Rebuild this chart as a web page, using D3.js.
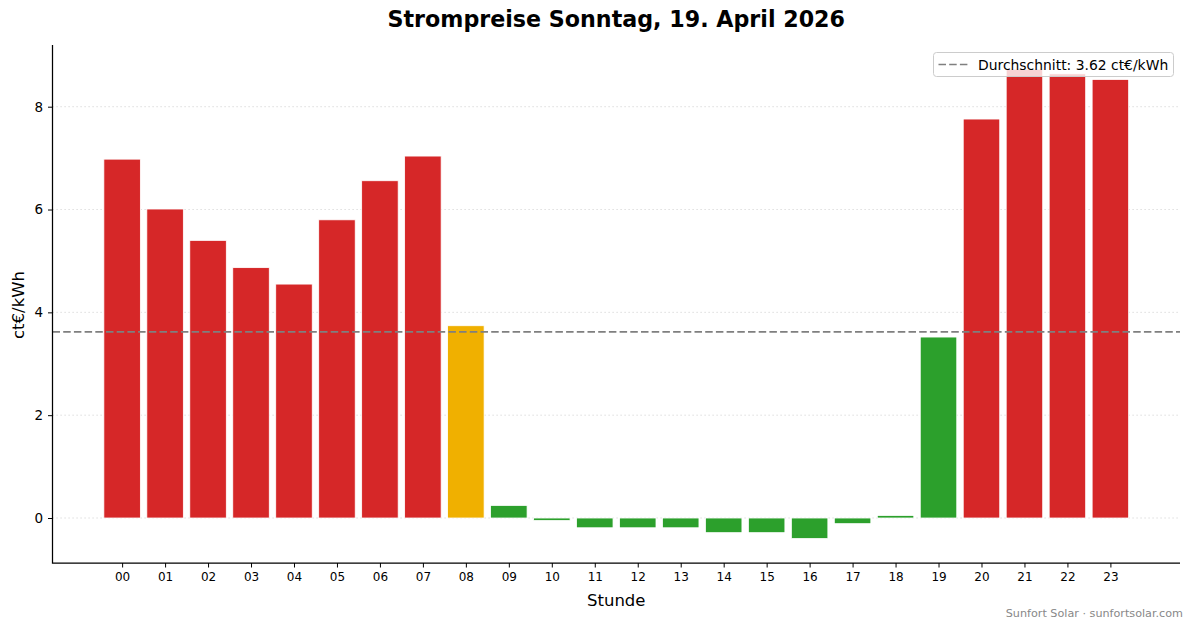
<!DOCTYPE html>
<html>
<head>
<meta charset="utf-8">
<script src="https://cdn.jsdelivr.net/npm/d3@7"></script>
<style>
  body { margin: 0; background: #fff; }
  text { font-family: "DejaVu Sans", sans-serif; }
</style>
</head>
<body>
<div id="chart"></div>
<script>
const width = 1193;
const height = 628;

// hourly prices in ct/kWh
const hours = ["00","01","02","03","04","05","06","07","08","09","10","11",
  "12","13","14","15","16","17","18","19","20","21","22","23"];
const prices = [6.98, 6.01, 5.40, 4.87, 4.55, 5.80, 6.56, 7.04, 3.74, 0.245, -0.05, -0.19,
  -0.19, -0.19, -0.285, -0.285, -0.40, -0.11, 0.05, 3.52, 7.76, 8.73, 8.64, 8.53];
const levels = ["high","high","high","high","high","high","high","high","mid","low","low","low",
  "low","low","low","low","low","low","low","low","high","high","high","high"];
const yTicks = [0, 2, 4, 6, 8];
const average = 3.62;

const levelColor = { high: "#d62728", mid: "#f0b000", low: "#2ca02c" };

const margin = { top: 45, right: 13, bottom: 65, left: 52.5 };
const innerW = width - margin.left - margin.right;
const innerH = height - margin.top - margin.bottom;

const svg = d3
  .select("#chart")
  .append("svg")
  .attr("width", width)
  .attr("height", height);

const g = svg.append("g").attr("transform", `translate(${margin.left},${margin.top})`);

const x = d3.scaleLinear().domain([-1.62, hours.length - 1 + 1.62]).range([0, innerW]);
const y = d3.scaleLinear().domain([-0.875, 9.2]).range([innerH, 0]);
const barW = x(0.85) - x(0);

// grid (dotted)
g.append("g")
  .selectAll("line")
  .data(yTicks)
  .join("line")
  .attr("x1", 0)
  .attr("x2", innerW)
  .attr("y1", (d) => y(d))
  .attr("y2", (d) => y(d))
  .attr("stroke", "#d0d0d0")
  .attr("stroke-width", 0.9)
  .attr("stroke-dasharray", "1.2,2.8");

// bars
g.append("g")
  .selectAll("rect")
  .data(prices)
  .join("rect")
  .attr("x", (d, i) => x(i) - barW / 2)
  .attr("y", (d) => y(Math.max(0, d)))
  .attr("width", barW)
  .attr("height", (d) => Math.abs(y(d) - y(0)))
  .attr("fill", (d, i) => levelColor[levels[i]])
  .attr("stroke", "#fff")
  .attr("stroke-width", 0.8);

// average line
g.append("line")
  .attr("x1", 0)
  .attr("x2", innerW)
  .attr("y1", y(average))
  .attr("y2", y(average))
  .attr("stroke", "#7f7f7f")
  .attr("stroke-width", 1.6)
  .attr("stroke-dasharray", "7.5,3.2");

// axes
const xAxis = g.append("g")
  .attr("transform", `translate(0,${innerH})`)
  .call(d3.axisBottom(x).tickValues(d3.range(hours.length)).tickFormat((i) => hours[i])
    .tickSizeOuter(0).tickSize(4.5).tickPadding(5));
xAxis.select(".domain").remove();
xAxis.selectAll("text").style("font-size", "12px").attr("fill", "#000");

const yAxis = g.append("g")
  .call(d3.axisLeft(y).tickValues(yTicks).tickSizeOuter(0).tickSize(4.5).tickPadding(5));
yAxis.select(".domain").remove();
yAxis.selectAll("text").style("font-size", "13.5px").attr("fill", "#000");

// spines (left and bottom only)
svg.append("path")
  .attr("d", `M${margin.left},${margin.top}V${margin.top + innerH}H${margin.left + innerW}`)
  .attr("fill", "none")
  .attr("stroke", "#000")
  .attr("stroke-width", 1.25);

// labels
svg.append("text")
  .attr("x", margin.left + innerW / 2)
  .attr("y", 26.5)
  .attr("text-anchor", "middle")
  .style("font-size", "22.2px")
  .style("font-weight", "bold")
  .text("Strompreise Sonntag, 19. April 2026");

svg.append("text")
  .attr("x", margin.left + innerW / 2)
  .attr("y", 606)
  .attr("text-anchor", "middle")
  .style("font-size", "16.5px")
  .text("Stunde");

svg.append("text")
  .attr("transform", "translate(24,305) rotate(-90)")
  .attr("text-anchor", "middle")
  .style("font-size", "16.5px")
  .text("ct€/kWh");

svg.append("text")
  .attr("x", 1183)
  .attr("y", 617)
  .attr("text-anchor", "end")
  .attr("fill", "#888")
  .style("font-size", "11.2px")
  .text("Sunfort Solar · sunfortsolar.com");

// legend
const legend = svg.append("g").attr("transform", "translate(933.5,52.5)");
legend.append("rect")
  .attr("width", 240)
  .attr("height", 24)
  .attr("rx", 3)
  .attr("fill", "#fff")
  .attr("fill-opacity", 0.8)
  .attr("stroke", "#ccc");
legend.append("line")
  .attr("x1", 5).attr("x2", 34)
  .attr("y1", 12).attr("y2", 12)
  .attr("stroke", "#7f7f7f")
  .attr("stroke-width", 1.6)
  .attr("stroke-dasharray", "7.5,3.2");
legend.append("text")
  .attr("x", 44.5)
  .attr("y", 17)
  .style("font-size", "13.9px")
  .text(`Durchschnitt: ${average.toFixed(2)} ct€/kWh`);
</script>
</body>
</html>
